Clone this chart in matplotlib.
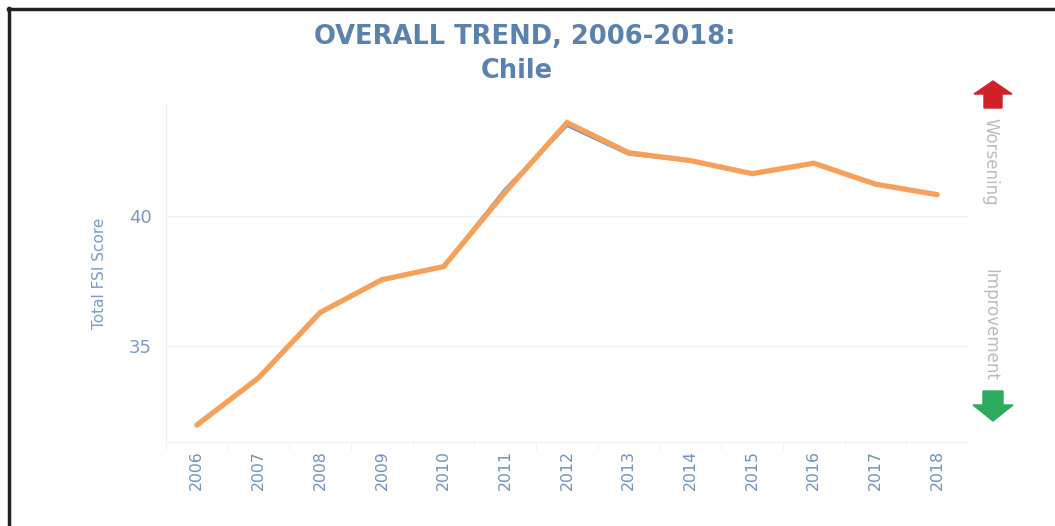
import matplotlib
matplotlib.use("Agg")
import matplotlib.pyplot as plt
from matplotlib.lines import Line2D
from matplotlib.patches import Polygon

# data
years = [2006, 2007, 2008, 2009, 2010, 2011, 2012, 2013, 2014, 2015, 2016, 2017, 2018]
score_orange = [32.0, 33.8, 36.3, 37.55, 38.05, 40.9, 43.55, 42.4, 42.1, 41.6, 42.0, 41.2, 40.8]
score_blue = [32.0, 33.8, 36.3, 37.55, 38.05, 41.0, 43.45, 42.35, 42.1, 41.6, 42.0, 41.2, 40.8]
yticks = [35, 40]

W, H = 1055, 526
fig = plt.figure(figsize=(W / 100, H / 100), dpi=100)
plt.rcParams['font.family'] = ['DejaVu Sans']

def fx(px):
    return px / W

def fy(py):
    return 1 - py / H

ax = fig.add_axes([fx(166), fy(442), fx(968) - fx(166), fy(103) - fy(442)])

x = list(range(len(years)))
ax.plot(x, score_blue, color='#5b8fc7', lw=2.4, solid_capstyle='round', zorder=2)
ax.plot(x, score_orange, color='#f7a05a', lw=3.8, solid_capstyle='round',
        solid_joinstyle='miter', zorder=3)

ax.set_xlim(-0.5, len(years) - 0.5)
ax.set_ylim(31.35, 44.3)
ax.set_yticks(yticks)
ax.set_yticklabels([str(v) for v in yticks])
ax.set_xticks(x)
ax.set_xticklabels([str(y) for y in years], rotation=90)
ax.set_xticks([i - 0.5 for i in range(len(years))], minor=True)

for v in yticks:
    ax.axhline(v, color='#f0f0f0', lw=1.0, zorder=0)

for s in ['top', 'right']:
    ax.spines[s].set_visible(False)
ax.spines['left'].set_color('#eef0f2')
ax.spines['bottom'].set_color('#eef0f2')
ax.tick_params(axis='y', length=0, labelsize=13, labelcolor='#7a9cc6', pad=10)
ax.tick_params(axis='x', which='major', length=0, labelsize=11.3, labelcolor='#6f93c0', pad=6)
ax.tick_params(axis='x', which='minor', length=6, color='#eef0f2')

# y axis title
fig.text(fx(100), fy(273), 'Total FSI Score', rotation=90, ha='center', va='center',
         fontsize=11, color='#7a9cc6')

# title
fig.text(fx(525), fy(37), 'OVERALL TREND, 2006-2018:', ha='center', va='center',
         fontsize=18.5, fontweight='bold', color='#5a82ad')
fig.text(fx(517), fy(71), 'Chile', ha='center', va='center',
         fontsize=18.5, fontweight='bold', color='#5a82ad')

# right-side indicators
cx = 993
up = [(cx - 19, 94), (cx, 81), (cx + 19, 94), (cx + 9, 94), (cx + 9, 108), (cx - 9, 108), (cx - 9, 94)]
down = [(cx - 10, 391), (cx + 10, 391), (cx + 10, 405), (cx + 20, 405), (cx, 421), (cx - 20, 405), (cx - 10, 405)]
fig.patches.append(Polygon([(fx(a), fy(b)) for a, b in up], closed=True, color='#d0212a',
                           transform=fig.transFigure, figure=fig))
fig.patches.append(Polygon([(fx(a), fy(b)) for a, b in down], closed=True, color='#2eaa5c',
                           transform=fig.transFigure, figure=fig))
fig.text(fx(990), fy(162), 'Worsening', rotation=-90, ha='center', va='center',
         fontsize=12, color='#bcbcbc')
fig.text(fx(990), fy(325), 'Improvement', rotation=-90, ha='center', va='center',
         fontsize=12, color='#bcbcbc')

# outer frame (top and left)
fig.lines.append(Line2D([fx(8), 1.0], [fy(9), fy(9)], color='#222222', lw=2.5,
                        transform=fig.transFigure, figure=fig))
fig.lines.append(Line2D([fx(9), fx(9)], [fy(8), 0.0], color='#222222', lw=2.5,
                        transform=fig.transFigure, figure=fig))

fig.savefig('out.png', dpi=100, facecolor='white')
